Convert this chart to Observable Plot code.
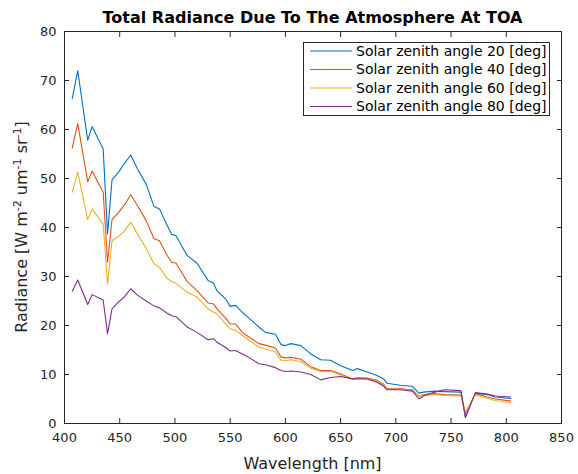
<!DOCTYPE html>
<html>
<head>
<meta charset="utf-8">
<script src="https://cdn.jsdelivr.net/npm/d3@7"></script>
<script src="https://cdn.jsdelivr.net/npm/@observablehq/plot@0.6"></script>
<style>
  html, body { margin: 0; padding: 0; background: #fff; }
  #chart { width: 578px; height: 474px; }
</style>
</head>
<body>
<div id="chart"></div>
<script>
// ---- data ----
const wavelength = [407, 412, 421, 425, 435, 439, 443, 449, 454, 460, 466, 474, 481, 486, 493, 497, 501, 511, 520, 530, 535, 538, 546, 550, 555, 561, 566, 576, 582, 591, 596, 600, 605, 614, 623, 632, 641, 650, 661, 665, 674, 683, 689, 692, 704, 715, 721, 725, 735, 744, 759, 763, 772, 783, 790, 804];
const rad20 = [66.3, 72.0, 57.8, 60.6, 56.0, 38.7, 49.7, 51.3, 53.0, 54.8, 52.0, 48.8, 44.3, 43.8, 40.4, 38.6, 38.3, 34.3, 32.7, 29.2, 28.6, 27.1, 25.4, 23.9, 24.1, 22.7, 21.7, 19.7, 18.6, 18.2, 16.1, 15.9, 16.3, 15.9, 14.2, 13.0, 12.9, 11.8, 10.8, 11.2, 10.5, 9.8, 9.1, 8.2, 7.8, 7.6, 6.2, 6.4, 6.6, 6.5, 6.4, 1.3, 6.2, 5.9, 5.4, 5.1];
const rad40 = [56.2, 61.2, 49.3, 51.5, 47.2, 32.9, 41.6, 43.1, 44.5, 46.7, 44.5, 41.4, 37.7, 37.3, 34.3, 32.9, 32.7, 29.0, 27.1, 24.6, 24.4, 23.4, 21.5, 20.3, 20.3, 18.6, 17.8, 16.3, 16.0, 15.4, 13.6, 13.4, 13.5, 13.1, 11.6, 10.8, 10.8, 10.1, 9.1, 9.4, 9.3, 8.8, 8.0, 7.1, 7.1, 6.9, 5.5, 5.9, 6.1, 5.9, 5.8, 2.0, 6.1, 5.4, 5.0, 4.6];
const rad60 = [47.2, 51.3, 41.6, 43.8, 40.7, 28.5, 37.3, 38.2, 39.2, 41.1, 38.7, 35.7, 32.6, 31.9, 29.6, 29.0, 28.6, 26.8, 25.8, 23.4, 22.7, 22.4, 20.3, 19.3, 19.0, 18.0, 17.2, 15.6, 15.2, 14.6, 12.9, 12.8, 13.0, 12.6, 11.3, 10.6, 10.6, 9.9, 9.0, 9.3, 9.2, 8.6, 7.8, 7.0, 7.0, 6.8, 5.5, 5.8, 5.9, 5.7, 5.6, 2.3, 5.8, 5.1, 4.7, 4.2];
const rad80 = [27.0, 29.3, 24.3, 26.3, 25.2, 18.3, 23.4, 24.8, 25.8, 27.5, 26.2, 25.0, 24.0, 23.6, 22.5, 22.0, 21.8, 19.7, 18.6, 17.1, 17.3, 16.6, 15.5, 14.8, 14.9, 14.2, 13.6, 12.2, 12.0, 11.4, 10.8, 10.6, 10.7, 10.5, 10.0, 8.9, 9.4, 9.6, 9.1, 9.1, 9.1, 8.4, 7.6, 6.9, 6.9, 6.6, 5.0, 5.6, 6.4, 6.9, 6.7, 1.2, 6.3, 6.0, 5.6, 5.4];
const seriesNames = ["Solar zenith angle 20 [deg]", "Solar zenith angle 40 [deg]", "Solar zenith angle 60 [deg]", "Solar zenith angle 80 [deg]"];
const seriesColors = ["#0072BD", "#D95319", "#EDB120", "#7E2F8E"];
const xTicks = [400, 450, 500, 550, 600, 650, 700, 750, 800, 850];
const yTicks = [0, 10, 20, 30, 40, 50, 60, 70, 80];
const titleText = "Total Radiance Due To The Atmosphere At TOA";
const xLabel = "Wavelength [nm]";

// ---- build table ----
const allSeries = [rad20, rad40, rad60, rad80];
const data = allSeries.flatMap((vals, i) =>
  wavelength.map((w, j) => ({ wl: w, r: vals[j], name: seriesNames[i] })));

const W = 578, H = 474;
const mL = 64, mR = 17, mT = 31, mB = 51;
const font = "DejaVu Sans, Liberation Sans, sans-serif";
const ink = "#262626";
const blank = () => "";
const tk = 5;

const svg = Plot.plot({
  width: W, height: H,
  marginLeft: mL, marginRight: mR, marginTop: mT, marginBottom: mB,
  style: { fontFamily: font, fontSize: "13px", color: ink, background: "#fff", overflow: "visible" },
  x: { domain: [400, 850] },
  y: { domain: [0, 80] },
  color: { domain: seriesNames, range: seriesColors },
  marks: [
    Plot.line(data, { x: "wl", y: "r", stroke: "name", strokeWidth: 1.1, z: "name" }),
    Plot.axisX({ ticks: xTicks, tickSize: 0, tickPadding: 9, label: null, fill: ink }),
    Plot.axisX({ ticks: xTicks, tickSize: tk, dy: -tk, tickFormat: blank, label: null, stroke: ink }),
    Plot.axisX({ anchor: "top", ticks: xTicks, tickSize: tk, dy: tk, tickFormat: blank, label: null, stroke: ink }),
    Plot.axisY({ ticks: yTicks, tickSize: 0, tickPadding: 8, label: null, fill: ink }),
    Plot.axisY({ ticks: yTicks, tickSize: tk, dx: tk, tickFormat: blank, label: null, stroke: ink }),
    Plot.axisY({ anchor: "right", ticks: yTicks, tickSize: tk, dx: -tk, tickFormat: blank, label: null, stroke: ink }),
    Plot.frame({ stroke: ink, strokeWidth: 1 })
  ]
});
document.getElementById("chart").appendChild(svg);

// ---- overlays: title, axis labels, legend ----
const s = d3.select(svg);
const cx = mL + (W - mL - mR) / 2;

s.append("text")
  .attr("x", cx).attr("y", 23)
  .attr("text-anchor", "middle")
  .attr("font-family", font).attr("font-size", 16).attr("font-weight", "bold")
  .attr("fill", "#000")
  .text(titleText);

s.append("text")
  .attr("x", cx).attr("y", 469)
  .attr("text-anchor", "middle")
  .attr("font-family", font).attr("font-size", 16)
  .attr("fill", ink)
  .text(xLabel);

const yl = s.append("text")
  .attr("transform", `translate(27, ${mT + (H - mT - mB) / 2}) rotate(-90)`)
  .attr("text-anchor", "middle")
  .attr("font-family", font).attr("font-size", 16)
  .attr("fill", ink);
yl.append("tspan").text("Radiance [W m");
yl.append("tspan").attr("dy", -6).attr("font-size", 11).text("-2");
yl.append("tspan").attr("dy", 6).text(" um");
yl.append("tspan").attr("dy", -6).attr("font-size", 11).text("-1");
yl.append("tspan").attr("dy", 6).text(" sr");
yl.append("tspan").attr("dy", -6).attr("font-size", 11).text("-1");
yl.append("tspan").attr("dy", 6).text("]");

// legend
const lx = 303, ly = 42, lw = 246, lh = 73, rowH = 18.5;
const lg = s.append("g").attr("text-anchor", "start");
lg.append("rect").attr("x", lx + 0.5).attr("y", ly + 0.5).attr("width", lw).attr("height", lh)
  .attr("fill", "#fff").attr("stroke", ink).attr("stroke-width", 1);
seriesNames.forEach((n, i) => {
  const y = ly + 9 + rowH * i;
  lg.append("line").attr("x1", lx + 7).attr("x2", lx + 49).attr("y1", y).attr("y2", y)
    .attr("stroke", seriesColors[i]).attr("stroke-width", 1.1);
  lg.append("text").attr("x", lx + 53).attr("y", y).attr("dy", "0.35em")
    .attr("text-anchor", "start")
    .attr("font-family", font).attr("font-size", 14).attr("fill", "#000").text(n);
});
</script>
</body>
</html>
